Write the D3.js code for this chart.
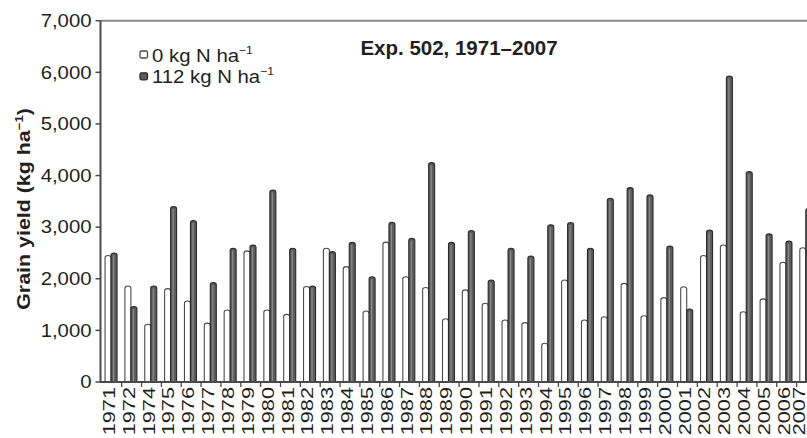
<!DOCTYPE html>
<html>
<head>
<meta charset="utf-8">
<script src="https://cdn.jsdelivr.net/npm/d3@7"></script>
<style>
  html, body { margin: 0; padding: 0; background: #fff; overflow: hidden; }
  svg { display: block; font-family: "Liberation Sans", Arial, Helvetica, sans-serif; }
</style>
</head>
<body>
<svg id="chart" width="807" height="438"></svg>
<script>
// Grain yield by year, Exp. 502
const years = ["1971","1972","1974","1975","1976","1977","1978","1979","1980","1981","1982","1983",
  "1984","1985","1986","1987","1988","1989","1990","1991","1992","1993","1994","1995",
  "1996","1997","1998","1999","2000","2001","2002","2003","2004","2005","2006","2007"];
const seriesNames = ["0 kg N ha", "112 kg N ha"];
const yield0 = [2450,1860,1120,1810,1570,1140,1395,2540,1395,1310,1850,2590,
  2235,1375,2710,2040,1830,1225,1785,1525,1200,1150,750,1975,
  1200,1265,1910,1285,1635,1845,2450,2655,1360,1610,2320,2600];
const yield112 = [2500,1460,1860,3400,3130,1925,2590,2655,3720,2590,1860,2525,
  2705,2040,3095,2785,4250,2705,2935,1975,2590,2440,3045,3090,
  2590,3560,3765,3625,2635,1415,2945,5930,4075,2870,2730,3365];
const yTicks = [0,1000,2000,3000,4000,5000,6000,7000];

const svg = d3.select("#chart");
const W = 807;
const plotLeft = 100.5, plotTop = 20.7, plotBottom = 382;
const step = 19.85;

const x = d3.scaleBand().domain(years).range([101.85, 101.85 + years.length * step]).padding(0);
const xs = d3.scaleBand().domain(seriesNames).range([3.2, 15.2]).padding(0);
const y = d3.scaleLinear().domain([0, 7000]).range([plotBottom, plotTop]);

const textColor = "#231f20";

// frame top line
svg.append("line")
  .attr("x1", plotLeft).attr("x2", W)
  .attr("y1", plotTop).attr("y2", plotTop)
  .attr("stroke", "#8a8a8a").attr("stroke-width", 2);

// bars with rounded caps
function barPath(x0, w, v) {
  const yt = y(v), y0 = y(0), r = 2.2;
  return `M${x0},${y0}V${yt + r}Q${x0},${yt} ${x0 + w / 2},${yt}Q${x0 + w},${yt} ${x0 + w},${yt + r}V${y0}Z`;
}

const rows = years.map((yr, i) => ({ yr, v0: yield0[i], v1: yield112[i] }));
const g = svg.append("g");
const bw = xs.bandwidth();

rows.forEach(d => {
  const bx0 = x(d.yr) + xs(seriesNames[0]);
  const bx1 = x(d.yr) + xs(seriesNames[1]);
  // unfertilised (white)
  g.append("path").attr("d", barPath(bx0, bw, d.v0))
    .attr("fill", "#ffffff").attr("stroke", "#4a4a4a").attr("stroke-width", 1.1);
  // fertilised (dark)
  g.append("path").attr("d", barPath(bx1, bw, d.v1))
    .attr("fill", "#5c5c5c").attr("stroke", "#2a2a2a").attr("stroke-width", 1.1);
  g.append("line")
    .attr("x1", bx1 + bw * 0.42).attr("x2", bx1 + bw * 0.42)
    .attr("y1", y(d.v1) + 2.5).attr("y2", y(0))
    .attr("stroke", "#8c8c8c").attr("stroke-width", 1.2);
});

// y axis
const yAxis = svg.append("g").attr("transform", `translate(${plotLeft},0)`);
yAxis.append("line").attr("x1", 0).attr("x2", 0).attr("y1", plotTop).attr("y2", plotBottom)
  .attr("stroke", "#4a4a4a").attr("stroke-width", 2);
yAxis.selectAll("line.tick").data(yTicks).join("line").attr("class", "tick")
  .attr("x1", -5).attr("x2", 0).attr("y1", d => y(d)).attr("y2", d => y(d))
  .attr("stroke", "#4a4a4a").attr("stroke-width", 1.5);
yAxis.selectAll("text").data(yTicks).join("text")
  .attr("transform", d => `translate(-9,${y(d)}) scale(1.13,1)`)
  .attr("dy", "0.35em").attr("text-anchor", "end")
  .attr("font-size", 18).attr("fill", textColor)
  .text(d => d3.format(",")(d));

// x axis
svg.append("line").attr("x1", plotLeft - 1).attr("x2", W).attr("y1", plotBottom).attr("y2", plotBottom)
  .attr("stroke", "#4a4a4a").attr("stroke-width", 2);
const boundaries = years.map(yr => x(yr) + step);
svg.selectAll("line.xtick").data(boundaries).join("line").attr("class", "xtick")
  .attr("x1", d => d).attr("x2", d => d).attr("y1", plotBottom).attr("y2", plotBottom + 5)
  .attr("stroke", "#4a4a4a").attr("stroke-width", 1.3);
// year labels, kept inside the right edge
svg.selectAll("text.xlab").data(years).join("text").attr("class", "xlab")
  .attr("transform", d => `translate(${Math.min(x(d) + step / 2 - 2.5, W - 7.5)},387) rotate(-90) scale(1.36,1)`)
  .attr("dy", "0.35em").attr("text-anchor", "end")
  .attr("font-size", 16).attr("fill", textColor)
  .text(d => d);

// y axis title
const yTitle = svg.append("text")
  .attr("transform", `translate(24,209) rotate(-90) scale(1.19,1)`)
  .attr("dy", "0.35em").attr("text-anchor", "middle")
  .attr("font-size", 18).attr("font-weight", "bold").attr("fill", textColor);
yTitle.append("tspan").text("Grain yield (kg ha");
yTitle.append("tspan").attr("font-size", 11).attr("dy", -7).text("\u22121");
yTitle.append("tspan").attr("dy", 7).text(")");

// title
svg.append("text").attr("x", 459).attr("y", 55).attr("text-anchor", "middle")
  .attr("font-size", 20.5).attr("font-weight", "bold").attr("fill", textColor)
  .text("Exp. 502, 1971\u20132007");

// legend
const legendRows = [
  { name: seriesNames[0], fill: "#ffffff", stroke: "#4a4a4a", ty: 61.5 },
  { name: seriesNames[1], fill: "#5c5c5c", stroke: "#2a2a2a", ty: 83.3 }
];
legendRows.forEach(r => {
  svg.append("rect").attr("x", 140).attr("y", r.ty - 10.5).attr("width", 7.5).attr("height", 7)
    .attr("rx", 1.5).attr("fill", r.fill).attr("stroke", r.stroke).attr("stroke-width", 1.3);
  const t = svg.append("text").attr("transform", `translate(152,${r.ty}) scale(1.1,1)`)
    .attr("font-size", 18.5).attr("fill", textColor);
  t.append("tspan").text(r.name);
  t.append("tspan").attr("font-size", 11).attr("dy", -8).text("\u22121");
});
</script>
</body>
</html>
